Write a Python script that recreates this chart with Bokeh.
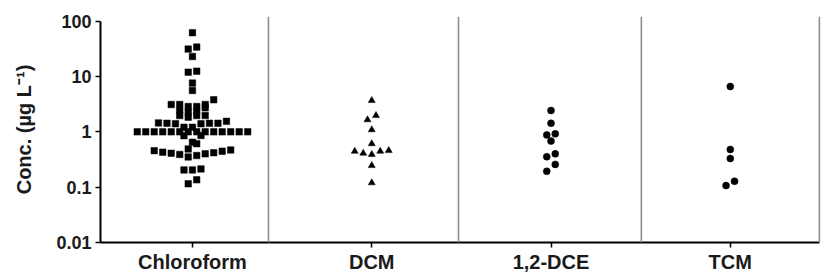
import numpy as np
from bokeh.plotting import figure
from bokeh.models import Range1d, FixedTicker, ColumnDataSource, Span, CustomJSTickFormatter
from bokeh.embed import file_html
from bokeh.resources import INLINE

# ---------------- data ----------------
categories = ["Chloroform", "DCM", "1,2-DCE", "TCM"]

chloroform = [62, 34, 31.3, 23, 12.5, 12.0, 7.6, 5.6, 3.8,
              3.12, 3.12, 3.12, 2.87, 2.87, 2.72, 2.43, 2.36, 2.26,
              1.97, 1.97, 1.97, 1.84,
              1.55, 1.45, 1.43, 1.43, 1.43, 1.40, 1.40, 1.21, 1.21,
              1.0, 1.0, 1.0, 1.0, 1.0, 1.0, 1.0, 1.0, 1.0, 1.0, 1.0, 1.0, 1.0, 1.0,
              0.86, 0.85, 0.65, 0.61, 0.49,
              0.47, 0.457, 0.447, 0.43, 0.42, 0.41, 0.40, 0.39, 0.373, 0.352,
              0.214, 0.205, 0.205, 0.136, 0.115]
dcm = [3.68, 1.97, 1.65, 1.09, 0.61, 0.459, 0.446, 0.446, 0.41, 0.389, 0.246, 0.12]
dce = [2.43, 1.43, 0.92, 0.88, 0.68, 0.40, 0.355, 0.258, 0.194]
tcm = [6.6, 0.48, 0.33, 0.128, 0.107]

y_ticks = [0.01, 0.1, 1, 10, 100]
dividers = [1.424, 2.484, 3.504, 4.497]


def swarm_x(values, center, w=0.13, step=0.0474):
    """Prism-like column scatter: bin values in log space, centre each bin's row."""
    logs = np.log10(np.asarray(values, dtype=float))
    bins = np.floor(logs / w + 0.5).astype(int)
    xs = np.zeros(len(logs))
    for b in np.unique(bins):
        idx = np.where(bins == b)[0]
        idx = idx[np.argsort(logs[idx], kind="stable")]
        n = len(idx)
        slots = np.arange(n) - (n - 1) / 2.0
        order = sorted(range(n), key=lambda k: (abs(slots[k]), slots[k]))
        for j, k in enumerate(order):
            xs[idx[j]] = center + slots[k] * step
    return xs


Y_TOP = 121.6
p = figure(width=829, height=276,
           x_range=Range1d(0.487, 4.52), y_range=Range1d(0.01, Y_TOP),
           y_axis_type="log", output_backend="svg", toolbar_location=None,
           min_border_left=100, min_border_right=6,
           min_border_top=16, min_border_bottom=34)
p.outline_line_color = None
p.xgrid.visible = False
p.ygrid.visible = False
p.background_fill_color = "white"
p.border_fill_color = "white"

for d in dividers:
    p.add_layout(Span(location=d, dimension="height", line_color="#8e8e8e", line_width=1.6))

series = [
    (chloroform, 1, "square", 6.5),
    (dcm, 2, "triangle", 7),
    (dce, 3, "circle", 7),
    (tcm, 4, "circle", 7),
]
for vals, c, marker, size in series:
    src = ColumnDataSource(dict(x=swarm_x(vals, c), y=vals))
    p.scatter("x", "y", source=src, marker=marker, size=size,
              fill_color="black", line_color="black", line_width=0.5)

FONT = "Liberation Sans"

xa = p.xaxis[0]
xa.ticker = FixedTicker(ticks=[1, 2, 3, 4])
xa.major_label_overrides = {i + 1: name for i, name in enumerate(categories)}
xa.bounds = (0.487, 4.5)
xa.axis_line_width = 2
xa.axis_line_color = "black"
xa.major_tick_out = 5
xa.major_tick_in = 0
xa.major_tick_line_width = 1.5
xa.minor_tick_line_color = None
xa.major_label_text_font = FONT
xa.major_label_text_font_style = "bold"
xa.major_label_text_font_size = "20px"
xa.major_label_text_color = "#1a1a1a"
xa.major_label_standoff = 3

ya = p.yaxis[0]
ya.ticker = FixedTicker(ticks=y_ticks, minor_ticks=[])
ya.formatter = CustomJSTickFormatter(code="return String(tick);")
ya.bounds = (0.01, 100)
ya.axis_line_width = 2
ya.axis_line_color = "black"
ya.major_tick_out = 5
ya.major_tick_in = 0
ya.major_tick_line_width = 1.5
ya.minor_tick_line_color = None
ya.major_label_text_font = FONT
ya.major_label_text_font_style = "bold"
ya.major_label_text_font_size = "18px"
ya.major_label_text_color = "#1a1a1a"
ya.major_label_standoff = 4
ya.axis_label = "Conc. (µg L⁻¹)"
ya.axis_label_text_font = FONT
ya.axis_label_text_font_style = "bold"
ya.axis_label_text_font_size = "20px"
ya.axis_label_text_color = "#1a1a1a"
ya.axis_label_standoff = 18

open("out.html", "w").write(file_html(p, INLINE))
